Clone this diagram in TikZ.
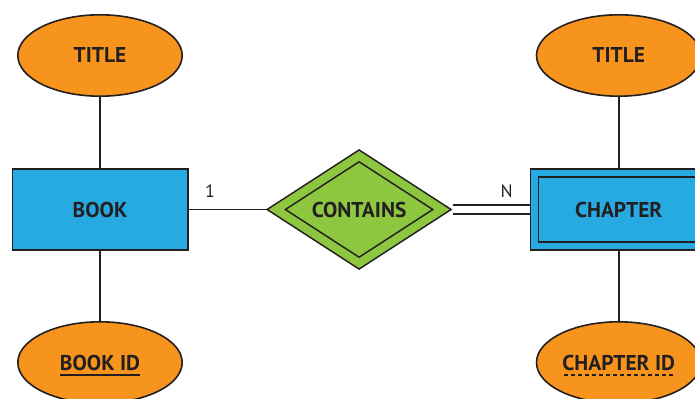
\documentclass[tikz,border=0pt]{standalone}
\usepackage{fontspec}
\setmainfont{PT Sans}
\usepackage{xcolor}
\usetikzlibrary{positioning, shapes, shapes.geometric}

\definecolor{ink}{HTML}{231F20}
\definecolor{attrorange}{HTML}{F7941D}
\definecolor{entblue}{HTML}{27AAE1}
\definecolor{relgreen}{HTML}{8DC63F}

% key underlines: solid for a key, dashed for a partial key
\newcommand{\solidul}[1]{\setbox0\hbox{#1}\copy0\llap{\rule[-5.5pt]{\wd0}{2pt}}}
\newcommand{\dashul}[1]{\setbox0\hbox{#1}\copy0\llap{\hbox to\wd0{\cleaders\hbox{\kern1.5pt\rule[-5.5pt]{4pt}{1.7pt}\kern1.5pt}\hfill}}}

\begin{document}
\begin{tikzpicture}[
    node distance=71bp and 77bp,
    every node/.style={text=ink},
    entity/.style={rectangle, draw=ink, fill=entblue, line width=1.6bp, minimum width=175.4bp, minimum height=81.4bp, font=\bfseries\fontsize{21.5}{24}\selectfont},
    weak/.style={entity, double=entblue, double distance=6.4bp, minimum width=168.4bp, minimum height=73.4bp, outer sep=4.8bp},
    attribute/.style={ellipse, draw=ink, fill=attrorange, line width=1.6bp, minimum width=164.4bp, minimum height=81.4bp, inner sep=0pt, font=\bfseries\fontsize{21.5}{24}\selectfont},
    relation/.style={diamond, aspect=1.6, draw=ink, fill=relgreen, line width=1.6bp, double=relgreen, double distance=8.2bp, minimum width=172bp, minimum height=113.6bp, inner sep=0pt, outer sep=7.6bp, font=\bfseries\fontsize{21.5}{24}\selectfont},
    link/.style={draw=ink, line width=1.6bp},
    total/.style={link, double=white, double distance=7.4bp},
    card/.style={font=\fontsize{18}{20}\selectfont, inner sep=0pt, above=11bp}
]
\path[use as bounding box, clip] (0,0) rectangle (695bp,-399bp);

% entities and the relationship
\node[entity] (book) at (100bp,-209.5bp) {BOOK};
\node[relation, right=of book] (contains) {CONTAINS};
\node[weak, right=of contains] (chapter) {CHAPTER};

% attributes
\node[attribute, above=of book] (booktitle) {TITLE};
\node[attribute, below=70bp of book, text depth=0pt] (bookid) {\solidul{BOOK ID}};
\node[attribute, above=of chapter] (chaptertitle) {TITLE};
\node[attribute, below=70bp of chapter, text depth=0pt] (chapterid) {\dashul{CHAPTER ID}};

% connectors
\draw[link] (booktitle) -- (book);
\draw[link] (book) -- (bookid);
\draw[link] (chaptertitle) -- (chapter);
\draw[link] (chapter) -- (chapterid);
\draw[link] (book) -- node[card, pos=0.28] {1} (contains);
\draw[total] (contains) -- node[card, pos=0.7] {N} (chapter);

\end{tikzpicture}
\end{document}
